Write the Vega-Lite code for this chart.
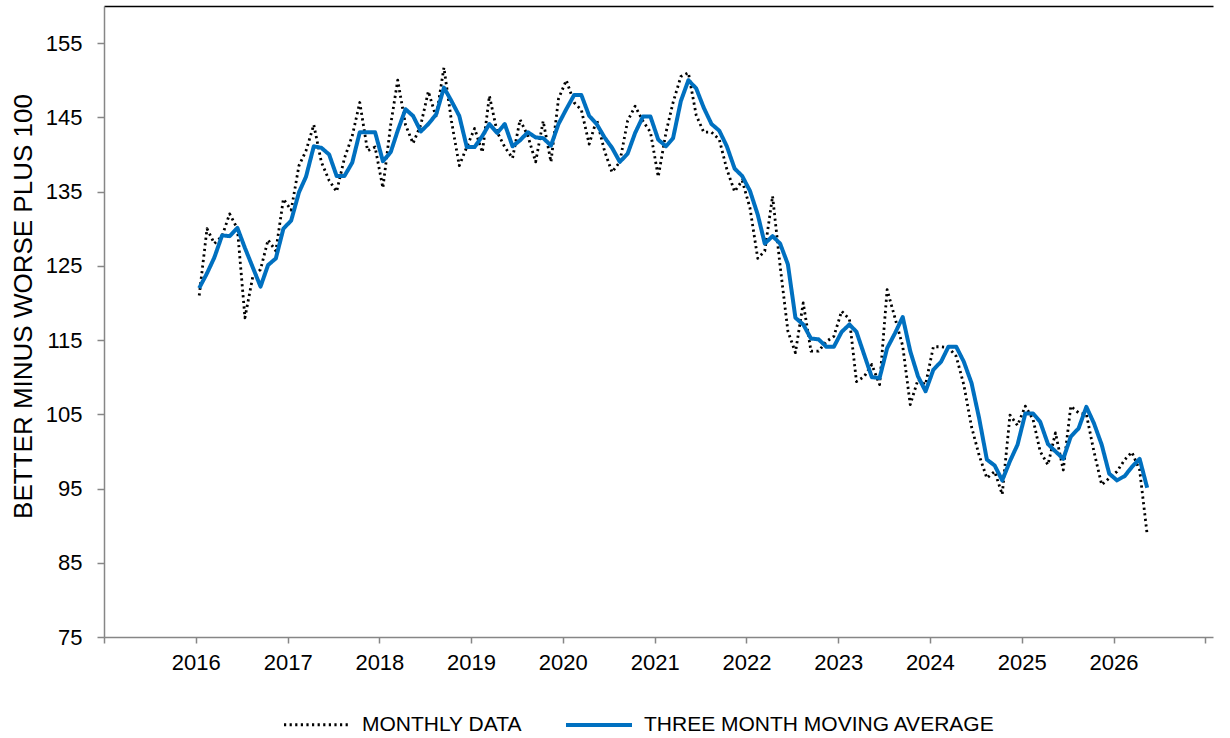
{
  "$schema": "https://vega.github.io/schema/vega-lite/v6.json",
  "width": 1109,
  "height": 631,
  "autosize": "none",
  "padding": {"left": 104, "top": 6, "right": 17, "bottom": 101},
  "background": "white",
  "config": {
    "view": {"stroke": null},
    "font": "Liberation Sans",
    "axis": {"labelFont": "Liberation Sans", "titleFont": "Liberation Sans", "labelColor": "#000000", "titleColor": "#000000", "grid": false},
    "legend": {"labelFont": "Liberation Sans", "labelColor": "#000000"}
  },
  "data": {
    "values": [
      {"d": "2016-01-15", "monthly": 121, "avg": 122},
      {"d": "2016-02-15", "monthly": 130, "avg": 124},
      {"d": "2016-03-15", "monthly": 128, "avg": 126.1},
      {"d": "2016-04-15", "monthly": 129, "avg": 129.1},
      {"d": "2016-05-15", "monthly": 132, "avg": 129},
      {"d": "2016-06-15", "monthly": 130, "avg": 130.1},
      {"d": "2016-07-15", "monthly": 118, "avg": 127.4},
      {"d": "2016-08-15", "monthly": 123.5, "avg": 124.8},
      {"d": "2016-09-15", "monthly": 124.5, "avg": 122.2},
      {"d": "2016-10-15", "monthly": 128.5, "avg": 125.1},
      {"d": "2016-11-15", "monthly": 127, "avg": 126},
      {"d": "2016-12-15", "monthly": 134, "avg": 130},
      {"d": "2017-01-15", "monthly": 132.5, "avg": 131.1},
      {"d": "2017-02-15", "monthly": 138.5, "avg": 134.9},
      {"d": "2017-03-15", "monthly": 140.5, "avg": 137},
      {"d": "2017-04-15", "monthly": 144, "avg": 141.1},
      {"d": "2017-05-15", "monthly": 139, "avg": 140.9},
      {"d": "2017-06-15", "monthly": 136.5, "avg": 140},
      {"d": "2017-07-15", "monthly": 135, "avg": 137.1},
      {"d": "2017-08-15", "monthly": 139.5, "avg": 137.1},
      {"d": "2017-09-15", "monthly": 142.5, "avg": 138.9},
      {"d": "2017-10-15", "monthly": 147, "avg": 143},
      {"d": "2017-11-15", "monthly": 140.5, "avg": 143},
      {"d": "2017-12-15", "monthly": 141, "avg": 143},
      {"d": "2018-01-15", "monthly": 135.5, "avg": 139.1},
      {"d": "2018-02-15", "monthly": 144, "avg": 140.3},
      {"d": "2018-03-15", "monthly": 150, "avg": 143.2},
      {"d": "2018-04-15", "monthly": 144, "avg": 146.1},
      {"d": "2018-05-15", "monthly": 141.5, "avg": 145.2},
      {"d": "2018-06-15", "monthly": 144, "avg": 143.1},
      {"d": "2018-07-15", "monthly": 148.5, "avg": 144.1},
      {"d": "2018-08-15", "monthly": 145, "avg": 145.4},
      {"d": "2018-09-15", "monthly": 151.7, "avg": 149},
      {"d": "2018-10-15", "monthly": 144.5, "avg": 147.2},
      {"d": "2018-11-15", "monthly": 138.5, "avg": 145.2},
      {"d": "2018-12-15", "monthly": 141, "avg": 141},
      {"d": "2019-01-15", "monthly": 143.5, "avg": 141},
      {"d": "2019-02-15", "monthly": 140.3, "avg": 142.5},
      {"d": "2019-03-15", "monthly": 147.9, "avg": 144.1},
      {"d": "2019-04-15", "monthly": 143, "avg": 142.9},
      {"d": "2019-05-15", "monthly": 141, "avg": 144.1},
      {"d": "2019-06-15", "monthly": 139.5, "avg": 141.1},
      {"d": "2019-07-15", "monthly": 144.7, "avg": 141.9},
      {"d": "2019-08-15", "monthly": 142.5, "avg": 143},
      {"d": "2019-09-15", "monthly": 139, "avg": 142.3},
      {"d": "2019-10-15", "monthly": 144.5, "avg": 142.2},
      {"d": "2019-11-15", "monthly": 139, "avg": 141.2},
      {"d": "2019-12-15", "monthly": 147.5, "avg": 144.1},
      {"d": "2020-01-15", "monthly": 150, "avg": 146.1},
      {"d": "2020-02-15", "monthly": 147, "avg": 148},
      {"d": "2020-03-15", "monthly": 146, "avg": 148},
      {"d": "2020-04-15", "monthly": 141.4, "avg": 145.2},
      {"d": "2020-05-15", "monthly": 144.7, "avg": 144.1},
      {"d": "2020-06-15", "monthly": 140.5, "avg": 142.3},
      {"d": "2020-07-15", "monthly": 137.6, "avg": 140.9},
      {"d": "2020-08-15", "monthly": 139, "avg": 139},
      {"d": "2020-09-15", "monthly": 144.5, "avg": 140.1},
      {"d": "2020-10-15", "monthly": 146.5, "avg": 142.9},
      {"d": "2020-11-15", "monthly": 144.5, "avg": 145.1},
      {"d": "2020-12-15", "monthly": 143, "avg": 145.1},
      {"d": "2021-01-15", "monthly": 137, "avg": 142},
      {"d": "2021-02-15", "monthly": 143, "avg": 141.1},
      {"d": "2021-03-15", "monthly": 147, "avg": 142.2},
      {"d": "2021-04-15", "monthly": 150.5, "avg": 147.2},
      {"d": "2021-05-15", "monthly": 151, "avg": 150},
      {"d": "2021-06-15", "monthly": 145.3, "avg": 148.9},
      {"d": "2021-07-15", "monthly": 143, "avg": 146.3},
      {"d": "2021-08-15", "monthly": 143, "avg": 144.1},
      {"d": "2021-09-15", "monthly": 142, "avg": 143.2},
      {"d": "2021-10-15", "monthly": 138, "avg": 141.1},
      {"d": "2021-11-15", "monthly": 135, "avg": 138.1},
      {"d": "2021-12-15", "monthly": 136.5, "avg": 137.1},
      {"d": "2022-01-15", "monthly": 132.8, "avg": 135.1},
      {"d": "2022-02-15", "monthly": 126, "avg": 131.9},
      {"d": "2022-03-15", "monthly": 127, "avg": 128},
      {"d": "2022-04-15", "monthly": 134.4, "avg": 129},
      {"d": "2022-05-15", "monthly": 125, "avg": 128},
      {"d": "2022-06-15", "monthly": 116.2, "avg": 125.2},
      {"d": "2022-07-15", "monthly": 113.3, "avg": 118},
      {"d": "2022-08-15", "monthly": 120, "avg": 117.1},
      {"d": "2022-09-15", "monthly": 113.5, "avg": 115.2},
      {"d": "2022-10-15", "monthly": 113.5, "avg": 115.1},
      {"d": "2022-11-15", "monthly": 114.8, "avg": 114.1},
      {"d": "2022-12-15", "monthly": 115.5, "avg": 114.1},
      {"d": "2023-01-15", "monthly": 118.9, "avg": 116.1},
      {"d": "2023-02-15", "monthly": 117.8, "avg": 117.1},
      {"d": "2023-03-15", "monthly": 109.4, "avg": 116.1},
      {"d": "2023-04-15", "monthly": 110.1, "avg": 113},
      {"d": "2023-05-15", "monthly": 111.7, "avg": 110},
      {"d": "2023-06-15", "monthly": 109, "avg": 109.9},
      {"d": "2023-07-15", "monthly": 121.8, "avg": 113.9},
      {"d": "2023-08-15", "monthly": 118, "avg": 115.9},
      {"d": "2023-09-15", "monthly": 114.2, "avg": 118.1},
      {"d": "2023-10-15", "monthly": 106.3, "avg": 113.5},
      {"d": "2023-11-15", "monthly": 109.7, "avg": 110.1},
      {"d": "2023-12-15", "monthly": 109, "avg": 108.1},
      {"d": "2024-01-15", "monthly": 114.1, "avg": 111},
      {"d": "2024-02-15", "monthly": 114.1, "avg": 112.1},
      {"d": "2024-03-15", "monthly": 114, "avg": 114.1},
      {"d": "2024-04-15", "monthly": 112.8, "avg": 114.1},
      {"d": "2024-05-15", "monthly": 109, "avg": 112.1},
      {"d": "2024-06-15", "monthly": 103.3, "avg": 109.2},
      {"d": "2024-07-15", "monthly": 99.5, "avg": 104.5},
      {"d": "2024-08-15", "monthly": 96.4, "avg": 98.9},
      {"d": "2024-09-15", "monthly": 97.3, "avg": 98.1},
      {"d": "2024-10-15", "monthly": 94.2, "avg": 96.1},
      {"d": "2024-11-15", "monthly": 104.9, "avg": 98.7},
      {"d": "2024-12-15", "monthly": 103.5, "avg": 100.9},
      {"d": "2025-01-15", "monthly": 106.1, "avg": 105.1},
      {"d": "2025-02-15", "monthly": 104.3, "avg": 105.1},
      {"d": "2025-03-15", "monthly": 100, "avg": 104},
      {"d": "2025-04-15", "monthly": 98.2, "avg": 101},
      {"d": "2025-05-15", "monthly": 102.5, "avg": 100},
      {"d": "2025-06-15", "monthly": 97.5, "avg": 99},
      {"d": "2025-07-15", "monthly": 106.1, "avg": 102},
      {"d": "2025-08-15", "monthly": 105.2, "avg": 103.1},
      {"d": "2025-09-15", "monthly": 105, "avg": 106},
      {"d": "2025-10-15", "monthly": 100, "avg": 103.8},
      {"d": "2025-11-15", "monthly": 95.5, "avg": 100.9},
      {"d": "2025-12-15", "monthly": 96.4, "avg": 97},
      {"d": "2026-01-15", "monthly": 97.3, "avg": 96.1},
      {"d": "2026-02-15", "monthly": 98.9, "avg": 96.7},
      {"d": "2026-03-15", "monthly": 99.9, "avg": 97.9},
      {"d": "2026-04-15", "monthly": 97.5, "avg": 99},
      {"d": "2026-05-15", "monthly": 88.8, "avg": 95.1}
    ]
  },
  "transform": [
    {"fold": ["monthly", "avg"], "as": ["series", "value"]}
  ],
  "resolve": {"axis": {"x": "independent"}},
  "layer": [
    {
      "mark": {"type": "line", "strokeJoin": "round"},
      "encoding": {
        "x": {
          "field": "d",
          "type": "temporal",
          "scale": {"type": "utc", "domain": [{"year": 2015, "month": 1, "date": 1, "utc": true}, {"year": 2027, "month": 2, "date": 1, "utc": true}]},
          "axis": {
            "title": null,
            "values": [
              {"year": 2015, "month": 1, "date": 1, "utc": true},
              {"year": 2016, "month": 1, "date": 1, "utc": true},
              {"year": 2017, "month": 1, "date": 1, "utc": true},
              {"year": 2018, "month": 1, "date": 1, "utc": true},
              {"year": 2019, "month": 1, "date": 1, "utc": true},
              {"year": 2020, "month": 1, "date": 1, "utc": true},
              {"year": 2021, "month": 1, "date": 1, "utc": true},
              {"year": 2022, "month": 1, "date": 1, "utc": true},
              {"year": 2023, "month": 1, "date": 1, "utc": true},
              {"year": 2024, "month": 1, "date": 1, "utc": true},
              {"year": 2025, "month": 1, "date": 1, "utc": true},
              {"year": 2026, "month": 1, "date": 1, "utc": true},
              {"year": 2027, "month": 1, "date": 1, "utc": true}
            ],
            "labelExpr": "utcFormat(datum.value, '%Y') == '2015' || utcFormat(datum.value, '%Y') == '2027' ? '' : utcFormat(datum.value, '%Y')",
            "labelFontSize": 22,
            "labelPadding": 9,
            "labelDx": 3,
            "labelFlush": false,
            "labelOverlap": false,
            "tickSize": 6,
            "tickColor": "#868686",
            "tickWidth": 1.5,
            "domainColor": "#868686",
            "domainWidth": 1.5
          }
        },
        "y": {
          "field": "value",
          "type": "quantitative",
          "scale": {"domain": [75, 160], "nice": false, "zero": false},
          "axis": {
            "title": "BETTER MINUS WORSE PLUS 100",
            "titleFontSize": 26,
            "titleFontWeight": "normal",
            "titleAngle": 270,
            "titleAlign": "center",
            "titleBaseline": "alphabetic",
            "titleX": -73,
            "titleY": 300,
            "values": [75, 85, 95, 105, 115, 125, 135, 145, 155],
            "labelFontSize": 22,
            "labelPadding": 15,
            "tickSize": 7,
            "tickColor": "#868686",
            "tickWidth": 1.5,
            "domainColor": "#868686",
            "domainWidth": 1.5
          }
        },
        "color": {
          "field": "series",
          "type": "nominal",
          "scale": {"domain": ["monthly", "avg"], "range": ["#000000", "#0070C0"]},
          "legend": {
            "title": null,
            "orient": "none",
            "legendX": 178,
            "legendY": 684,
            "direction": "horizontal",
            "columns": 2,
            "columnPadding": 36,
            "labelFontSize": 21,
            "labelOffset": 10,
            "labelLimit": 500,
            "symbolType": "stroke",
            "symbolSize": 4356,
            "labelExpr": "datum.value == 'monthly' ? 'MONTHLY DATA' : 'THREE MONTH MOVING AVERAGE'"
          }
        },
        "strokeDash": {
          "field": "series",
          "type": "nominal",
          "scale": {"domain": ["monthly", "avg"], "range": [[2.2, 3.4], [1, 0]]},
          "legend": null
        },
        "strokeWidth": {
          "field": "series",
          "type": "nominal",
          "scale": {"domain": ["monthly", "avg"], "range": [2.8, 4]},
          "legend": null
        },
        "order": {"field": "series", "type": "nominal", "sort": "descending"}
      }
    },
    {
      "mark": {"type": "rule", "opacity": 0},
      "encoding": {
        "x": {
          "field": "d",
          "type": "temporal",
          "aggregate": "min",
          "axis": {"orient": "top", "title": null, "labels": false, "ticks": false, "domainColor": "#000000", "domainWidth": 1.5}
        }
      }
    }
  ]
}
